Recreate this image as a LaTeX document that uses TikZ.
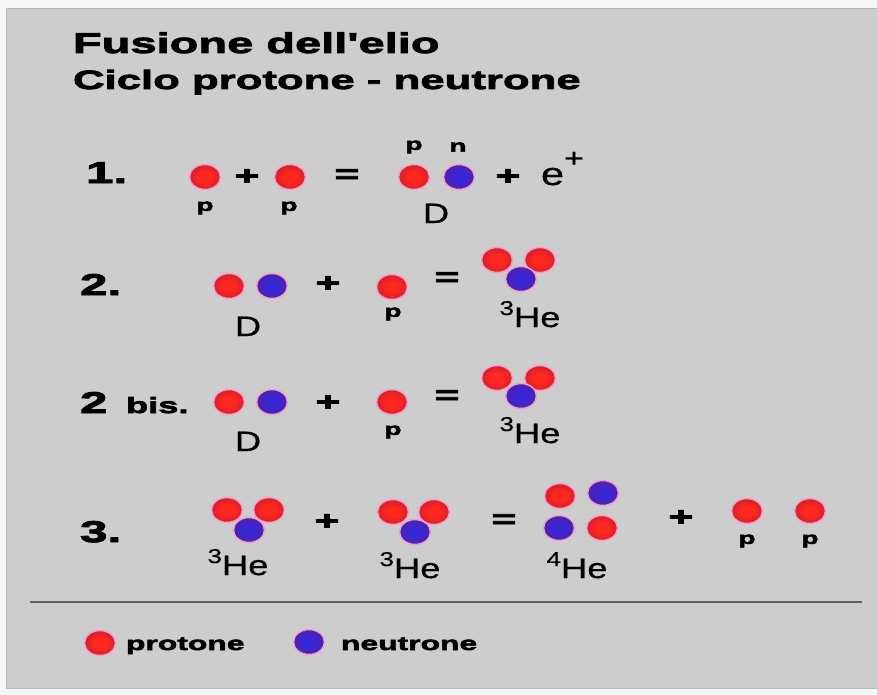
\documentclass[tikz,border=0pt]{standalone}
\usepackage{fontspec}
\setmainfont{Liberation Sans}
\newfontfamily\heavy{Liberation Sans Bold}[FakeStretch=1.65,FakeBold=3]
\newfontfamily\light{Liberation Sans}[FakeStretch=1.3,FakeBold=0.6]
\usetikzlibrary{shapes.geometric}

\definecolor{paper}{RGB}{244,246,247}
\definecolor{panelgray}{RGB}{205,205,205}
\definecolor{paneledge}{RGB}{180,182,184}
\definecolor{rulegray}{RGB}{95,95,95}
\definecolor{protonin}{RGB}{255,40,30}
\definecolor{protonout}{RGB}{175,20,60}
\definecolor{neutronin}{RGB}{55,40,215}
\definecolor{neutronout}{RGB}{100,25,140}
\definecolor{halo}{RGB}{238,160,200}

% ball shadings for the two kinds of nucleon
\pgfdeclareradialshading{protonball}{\pgfpoint{0bp}{0bp}}{color(0bp)=(protonin); color(10bp)=(protonin); color(40bp)=(protonout); color(50bp)=(protonout)}
\pgfdeclareradialshading{neutronball}{\pgfpoint{0bp}{0bp}}{color(0bp)=(neutronin); color(8bp)=(neutronin); color(40bp)=(neutronout); color(50bp)=(neutronout)}

% mass number in front of He
\newcommand{\massnum}[1]{\raisebox{12pt}{\fontsize{20}{20}\selectfont #1}}

\begin{document}
\begin{tikzpicture}[x=1pt, y=-1pt,
       every node/.style={inner sep=0pt, outer sep=0pt},
       particle/.style={ellipse, minimum width=31pt, minimum height=25pt,
             draw=halo, line width=1.5pt},
       proton/.style={particle, shading=protonball},
       neutron/.style={particle, shading=neutronball},
       num/.style={anchor=base west, font=\heavy\fontsize{30}{32}\selectfont},
       op/.style={font=\heavy\fontsize{26}{26}\selectfont},
       tag/.style={font=\heavy\fontsize{17}{17}\selectfont},
       lbl/.style={anchor=base, font=\light\fontsize{28}{28}\selectfont},
       key/.style={anchor=base west, font=\heavy\fontsize{19.3}{20}\selectfont}]
\useasboundingbox (0,0) rectangle (877,695);
\fill[paper] (0,0) rectangle (877,695);
\filldraw[fill=panelgray, draw=paneledge, line width=1pt] (6,9) rectangle (880,688);

% heading
\node[anchor=base west, font=\heavy\fontsize{28.5}{30}\selectfont] (title) at (73,53) {Fusione dell'elio};
\node[anchor=base west, font=\heavy\fontsize{26.5}{28}\selectfont] (subtitle) at (73,89) {Ciclo protone - neutrone};

% 1.  p + p = D + e+
\node[num] (n1) at (86,183) {1.};
\node[proton] (a1) at (205,177) {};
\node[tag] (a1t) at (205,208) {p};
\node[op] (a2) at (247,177) {+};
\node[proton] (a3) at (290,177) {};
\node[tag] (a3t) at (289,208) {p};
\node[op] (a4) at (347,176) {=};
\node[proton] (a5) at (414,177) {};
\node[neutron] (a6) at (459,177) {};
\node[tag] (a5t) at (414,147) {p};
\node[tag] (a6t) at (458,147) {n};
\node[lbl] (a7) at (436,223) {D};
\node[op] (a8) at (508,177) {+};
\node[lbl, anchor=base west] (a9) at (541,185) {\fontsize{32}{32}\selectfont e\raisebox{18pt}{\fontsize{26}{26}\selectfont +}};

% 2.  D + p = 3He
\node[num] (n2) at (80,295) {2.};
\node[proton] (b1) at (229,286) {};
\node[neutron] (b2) at (272,286) {};
\node[lbl] (b3) at (248,336) {D};
\node[op] (b4) at (328,284) {+};
\node[proton] (b5) at (392,287) {};
\node[tag] (b5t) at (393,314) {p};
\node[op] (b6) at (447,279) {=};
\node[proton] (b7) at (497,260) {};
\node[proton] (b8) at (540,260) {};
\node[neutron] (b9) at (521,279) {};
\node[lbl] (b10) at (530,327) {\massnum{3}He};

% 2 bis.  D + p = 3He
\node[num] (n2b) at (80,413) {2};
\node[num, font=\heavy\fontsize{22}{22}\selectfont] (bis) at (126,413) {bis.};
\node[proton] (c1) at (229,402) {};
\node[neutron] (c2) at (272,402) {};
\node[lbl] (c3) at (248,451) {D};
\node[op] (c4) at (328,403) {+};
\node[proton] (c5) at (392,402) {};
\node[tag] (c5t) at (393,432) {p};
\node[op] (c6) at (447,397) {=};
\node[proton] (c7) at (497,378) {};
\node[proton] (c8) at (540,378) {};
\node[neutron] (c9) at (521,396) {};
\node[lbl] (c10) at (530,443) {\massnum{3}He};

% 3.  3He + 3He = 4He + p + p
\node[num] (n3) at (80,542) {3.};
\node[proton] (d1) at (227,510) {};
\node[proton] (d2) at (269,510) {};
\node[neutron] (d3) at (249,530) {};
\node[lbl] (d4) at (238,575) {\massnum{3}He};
\node[op] (d5) at (327,522) {+};
\node[proton] (d6) at (393,512) {};
\node[proton] (d7) at (434,512) {};
\node[neutron] (d8) at (415,532) {};
\node[lbl] (d9) at (410,578) {\massnum{3}He};
\node[op] (d10) at (504,521) {=};
\node[proton] (d11) at (560,496) {};
\node[neutron] (d12) at (603,493) {};
\node[neutron] (d13) at (559,528) {};
\node[proton] (d14) at (602,528) {};
\node[lbl] (d15) at (577,578) {\massnum{4}He};
\node[op] (d16) at (681,518) {+};
\node[proton] (d17) at (747,511) {};
\node[proton] (d18) at (810,511) {};
\node[tag] (d17t) at (747,541) {p};
\node[tag] (d18t) at (810,541) {p};

% separator and legend
\coordinate (ruleL) at (30,602);
\coordinate (ruleR) at (862,602);
\draw[rulegray, line width=2.5pt] (ruleL) -- (ruleR);
\node[proton] (kp) at (100,643) {};
\node[key] (kpt) at (126,650) {protone};
\node[neutron] (kn) at (309,642) {};
\node[key] (knt) at (341,650) {neutrone};
\end{tikzpicture}
\end{document}
